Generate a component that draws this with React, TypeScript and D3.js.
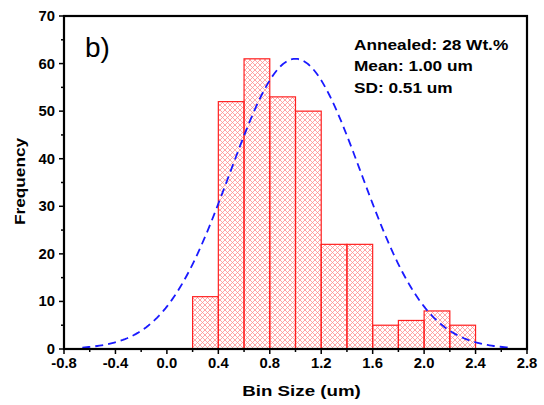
import React from "react";
import * as d3 from "d3";

const binStarts = [0.2, 0.4, 0.6, 0.8, 1.0, 1.2, 1.4, 1.6, 1.8, 2.0, 2.2];
const binWidth = 0.2;
const frequencies = [11, 52, 61, 53, 50, 22, 22, 5, 6, 8, 5];
const xTicks = [-0.8, -0.4, 0.0, 0.4, 0.8, 1.2, 1.6, 2.0, 2.4, 2.8];
const yTicks = [0, 10, 20, 30, 40, 50, 60, 70];
const fitMean = 1.0;
const fitSD = 0.51;
const fitPeak = 61;
const annotations = ["Annealed: 28 Wt.%", "Mean: 1.00 um", "SD: 0.51 um"];

const W = 544, H = 405;
const M = { left: 64, right: 17, top: 16, bottom: 56 };
const FONT = "'Liberation Sans', Arial, sans-serif";

export default function App() {
  const x = d3.scaleLinear().domain([-0.8, 2.8]).range([M.left, W - M.right]);
  const y = d3.scaleLinear().domain([0, 70]).range([H - M.bottom, M.top]);
  const fitXs = d3.range(0, 201).map((i) => fitMean - 3.25 * fitSD + (i / 200) * 6.5 * fitSD);
  const gauss = (v: number) => fitPeak * Math.exp(-((v - fitMean) ** 2) / (2 * fitSD * fitSD));
  const line = d3.line<number>().x((v) => x(v)).y((v) => y(gauss(v)));
  const xMinor = d3.range(-0.8, 2.81, 0.2);
  const yMinor = d3.range(0, 71, 5);
  const y0 = y(0);
  return (
    <svg width={W} height={H} style={{ position: "absolute", left: 0, top: 0, background: "#fff" }}>
      <defs>
        <pattern id="hatch" patternUnits="userSpaceOnUse" width={5} height={5}>
          <path d="M0,0 L5,5 M5,0 L0,5" stroke="#ff9090" strokeWidth={0.8} />
        </pattern>
      </defs>
      {binStarts.map((b, i) => (
        <rect
          key={i}
          x={x(b)}
          y={y(frequencies[i])}
          width={x(b + binWidth) - x(b)}
          height={y0 - y(frequencies[i])}
          fill="url(#hatch)"
          stroke="#ff2020"
          strokeWidth={1.2}
        />
      ))}
      <path d={line(fitXs) || ""} fill="none" stroke="#1a1aff" strokeWidth={1.8} strokeDasharray="8,5" />
      <rect x={M.left} y={M.top} width={W - M.right - M.left} height={y0 - M.top} fill="none" stroke="#000" strokeWidth={2.2} />
      {xMinor.map((t, i) => (
        <line key={"xm" + i} x1={x(t)} x2={x(t)} y1={y0} y2={y0 + (i % 2 === 0 ? 5 : 3)} stroke="#000" strokeWidth={1.5} />
      ))}
      {yMinor.map((t, i) => (
        <line key={"ym" + i} y1={y(t)} y2={y(t)} x1={M.left} x2={M.left - (i % 2 === 0 ? 5 : 3)} stroke="#000" strokeWidth={1.5} />
      ))}
      {xTicks.map((t) => (
        <g key={"xt" + t} transform={`translate(${x(t)},${y0 + 19}) scale(1.06,1)`}>
          <text textAnchor="middle" fontFamily={FONT} fontWeight="bold" fontSize={14} fill="#000">
            {t.toFixed(1)}
          </text>
        </g>
      ))}
      {yTicks.map((t) => (
        <g key={"yt" + t} transform={`translate(${M.left - 9},${y(t) + 5}) scale(1.06,1)`}>
          <text textAnchor="end" fontFamily={FONT} fontWeight="bold" fontSize={14} fill="#000">
            {t}
          </text>
        </g>
      ))}
      <g transform={`translate(301.5,396) scale(1.25,1)`}>
        <text textAnchor="middle" fontFamily={FONT} fontWeight="bold" fontSize={15} fill="#000">
          Bin Size (um)
        </text>
      </g>
      <g transform={`translate(25,181.5) rotate(-90) scale(1.15,1)`}>
        <text textAnchor="middle" fontFamily={FONT} fontWeight="bold" fontSize={15} fill="#000">
          Frequency
        </text>
      </g>
      <text x={85} y={57} fontFamily={FONT} fontSize={28} fill="#000">b)</text>
      {annotations.map((a, i) => (
        <g key={a} transform={`translate(354,${50 + i * 21.3}) scale(1.15,1)`}>
          <text fontFamily={FONT} fontWeight="bold" fontSize={15} fill="#000">
            {a}
          </text>
        </g>
      ))}
    </svg>
  );
}
